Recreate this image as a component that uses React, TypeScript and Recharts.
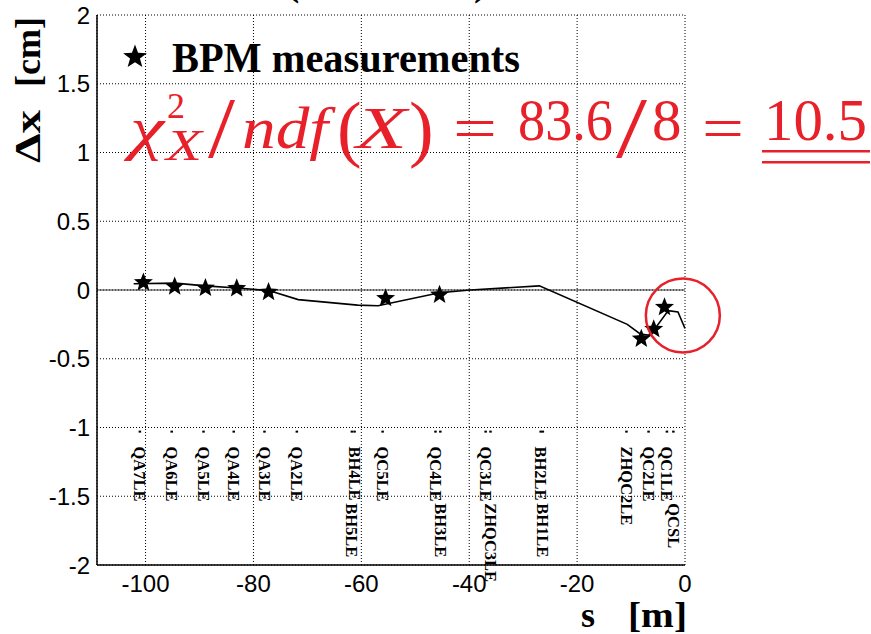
import React from "react";
import {
  ComposedChart,
  Line,
  Scatter,
  XAxis,
  YAxis,
  CartesianGrid,
  ReferenceLine,
  ReferenceDot,
} from "recharts";

// BPM readings
const bpmS = [-100.4, -94.6, -88.9, -83.1, -77.2, -55.5, -45.5, -8.1, -5.8, -3.8];
const bpmDx = [0.055, 0.025, 0.015, 0.012, -0.015, -0.06, -0.035, -0.355, -0.285, -0.125];

// fitted orbit
const orbitS = [-102.2, -94.5, -89, -83, -77, -71.7, -60.7, -56.9, -45.5, -39.8, -27, -10.7, -8.3, -6.5, -3.1, -1.3, 0];
const orbitDx = [0.045, 0.05, 0.03, 0.015, -0.005, -0.07, -0.11, -0.115, -0.02, 0.0, 0.03, -0.25, -0.32, -0.33, -0.15, -0.16, -0.28];

// magnet element labels
const elemNames = ["QA7LE", "QA6LE", "QA5LE", "QA4LE", "QA3LE", "QA2LE", "BH4LE", "BH5LE", "QC5LE", "QC4LE", "BH3LE", "QC3LE", "ZHQC3LE", "BH2LE", "BH1LE", "ZHQC2LE", "QC2LE", "QC1LE", "QCSL"];
const elemS = [-101.1, -95.2, -89.3, -83.7, -78.0, -72.0, -61.3, -61.8, -56.1, -46.3, -45.4, -37.0, -36.1, -26.8, -26.4, -10.9, -6.8, -3.4, -2.2];
const elemRow = [0, 0, 0, 0, 0, 0, 0, 1, 0, 0, 1, 0, 1, 0, 1, 0, 0, 0, 1];
const rowDx = [-1.138, -1.551];
const markerDx = -1.03;

const xTicks = [-100, -80, -60, -40, -20, 0];
const yTicks = [-2, -1.5, -1, -0.5, 0, 0.5, 1, 1.5, 2];
const xMinor = Array.from({ length: 22 }, (_, i) => -105 + i * 5);
const yMinor = Array.from({ length: 41 }, (_, i) => Math.round((-2 + i * 0.1) * 10) / 10);

const bpmData = bpmS.map((s, i) => ({ s, dx: bpmDx[i] }));
const orbitData = orbitS.map((s, i) => ({ s, dx: orbitDx[i] }));
const elemData = elemNames.map((name, i) => ({ s: elemS[i], dx: rowDx[elemRow[i]], name }));
const markerData = elemS.map((s) => ({ s, dx: markerDx }));

const RED = "#e8202a";
const SERIF = "'Times New Roman', Times, 'Liberation Serif', 'DejaVu Serif', serif";
const SANS = "Liberation Sans, Arial, sans-serif";

function starPoints(cx: number, cy: number, R: number, r: number) {
  const pts: string[] = [];
  for (let k = 0; k < 10; k++) {
    const rad = k % 2 === 0 ? R : r;
    const a = -Math.PI / 2 + (k * Math.PI) / 5;
    pts.push(`${cx + rad * Math.cos(a)},${cy + rad * Math.sin(a)}`);
  }
  return pts.join(" ");
}

const Star = (props: any) => {
  const { cx, cy } = props;
  if (cx == null || cy == null) return null;
  return <polygon points={starPoints(cx, cy, 10, 4.3)} fill="#000" />;
};

const ElemLabel = (props: any) => {
  const { cx, cy, payload } = props;
  if (cx == null || cy == null) return null;
  return (
    <text
      x={cx}
      y={cy}
      transform={`rotate(90, ${cx}, ${cy})`}
      dominantBaseline="central"
      fontFamily={SERIF}
      fontWeight="bold"
      fontSize={16.5}
      fill="#000"
    >
      {payload.name}
    </text>
  );
};

const ElemMarker = (props: any) => {
  const { cx, cy } = props;
  if (cx == null || cy == null) return null;
  return <rect x={cx - 1} y={cy - 1} width={2.5} height={2} fill="#000" />;
};

const redText = (x: number, y: number, txt: string, size: number, italic: boolean, len?: number) => (
  <text
    x={x}
    y={y}
    fill={RED}
    fontFamily={SERIF}
    fontWeight={400}
    fontStyle={italic ? "italic" : "normal"}
    fontSize={size}
    textLength={len}
    lengthAdjust={len ? "spacingAndGlyphs" : undefined}
  >
    {txt}
  </text>
);

export default function App() {
  return (
    <div style={{ position: "absolute", left: 0, top: 0, width: 871, height: 634, background: "#fff" }}>
      <ComposedChart width={871} height={634} margin={{ top: 15, right: 186, bottom: 0, left: 0 }}>
        <CartesianGrid stroke="#000" strokeDasharray="1 2" strokeWidth={1} />
        <XAxis
          dataKey="s"
          type="number"
          domain={[-109, 0]}
          ticks={xTicks}
          height={69}
          tickSize={0}
          tickMargin={10}
          tick={{ fontFamily: SANS, fontSize: 24, fill: "#000" }}
          axisLine={{ stroke: "#000", strokeWidth: 1.5 }}
          tickLine={false}
        />
        <XAxis xAxisId="majX" type="number" domain={[-109, 0]} ticks={xTicks} mirror tick={false} tickSize={12} axisLine={false} tickLine={{ stroke: "#000" }} />
        <XAxis xAxisId="minX" type="number" domain={[-109, 0]} ticks={xMinor} mirror tick={false} tickSize={6} axisLine={false} tickLine={{ stroke: "#000" }} />
        <XAxis xAxisId="top" orientation="top" type="number" domain={[-109, 0]} height={0} tick={false} tickLine={false} axisLine={{ stroke: "#000", strokeWidth: 1.5 }} />
        <YAxis
          type="number"
          domain={[-2, 2]}
          ticks={yTicks}
          width={97}
          tickSize={0}
          tickMargin={7}
          tick={{ fontFamily: SANS, fontSize: 24, fill: "#000" }}
          axisLine={{ stroke: "#000", strokeWidth: 1.5 }}
          tickLine={false}
        />
        <YAxis yAxisId="majY" type="number" domain={[-2, 2]} ticks={yTicks} mirror tick={false} tickSize={12} axisLine={false} tickLine={{ stroke: "#000" }} />
        <YAxis yAxisId="minY" type="number" domain={[-2, 2]} ticks={yMinor} mirror tick={false} tickSize={6} axisLine={false} tickLine={{ stroke: "#000" }} />
        <YAxis yAxisId="right" orientation="right" type="number" domain={[-2, 2]} width={0} tick={false} tickLine={false} axisLine={{ stroke: "#000", strokeWidth: 1.5 }} />
        <ReferenceLine y={0} stroke="#333" strokeWidth={1} />
        <Line data={orbitData} dataKey="dx" type="linear" stroke="#000" strokeWidth={1.6} dot={false} isAnimationActive={false} />
        <Scatter data={bpmData} dataKey="dx" shape={<Star />} isAnimationActive={false} />
        <Scatter data={markerData} dataKey="dx" shape={<ElemMarker />} isAnimationActive={false} />
        <Scatter data={elemData} dataKey="dx" shape={<ElemLabel />} isAnimationActive={false} />
        <ReferenceDot x={-0.4} y={-0.185} r={37} fill="none" stroke={RED} strokeWidth={2.5} ifOverflow="visible" />
      </ComposedChart>
      <svg width={871} height={634} style={{ position: "absolute", left: 0, top: 0, pointerEvents: "none" }}>
        {/* clipped title remnants */}
        <text x={286} y={-5} fontFamily={SERIF} fontWeight="bold" fontSize={40}>(</text>
        <text x={474} y={-5} fontFamily={SERIF} fontWeight="bold" fontSize={40}>)</text>
        {/* legend */}
        <polygon points={starPoints(135, 57, 12.5, 5.2)} fill="#000" />
        <text x={172} y={72} fontFamily={SERIF} fontWeight="bold" fontSize={42} textLength={348} lengthAdjust="spacingAndGlyphs">
          BPM measurements
        </text>
        {/* axis titles */}
        <text transform="translate(40,163) rotate(-90)" fontFamily={SERIF} fontWeight="bold" fontSize={36} textLength={53} lengthAdjust="spacingAndGlyphs">Δx</text>
        <text transform="translate(40,87) rotate(-90)" fontFamily={SERIF} fontWeight="bold" fontSize={36} textLength={70} lengthAdjust="spacingAndGlyphs">[cm]</text>
        <text x={581} y={627} fontFamily={SERIF} fontWeight="bold" fontSize={36}>s</text>
        <text x={628} y={627} fontFamily={SERIF} fontWeight="bold" fontSize={36} textLength={59} lengthAdjust="spacingAndGlyphs">[m]</text>
        {/* chi2 annotation */}
        {redText(130, 148, "χ", 59, true, 34)}
        {redText(167, 118, "2", 36, false)}
        {redText(166, 160, "X", 44, true, 36)}
        {redText(208, 157, "/", 86, false, 27)}
        {redText(242, 148, "ndf", 59, true, 86)}
        {redText(337, 153, "(", 74, false)}
        {redText(356, 148, "X", 59, true, 51)}
        {redText(409, 153, ")", 74, false)}
        {redText(453, 148, "=", 59, false, 44)}
        {redText(518, 140, "83.6", 59, false, 95)}
        {redText(616, 157, "/", 86, false, 31)}
        {redText(652, 140, "8", 59, false)}
        {redText(702, 148, "=", 59, false, 42)}
        {redText(764, 140, "10.5", 59, false, 103)}
        <rect x={762} y={150} width={108} height={2.5} fill={RED} />
        <rect x={762} y={161} width={108} height={2.5} fill={RED} />
      </svg>
    </div>
  );
}
